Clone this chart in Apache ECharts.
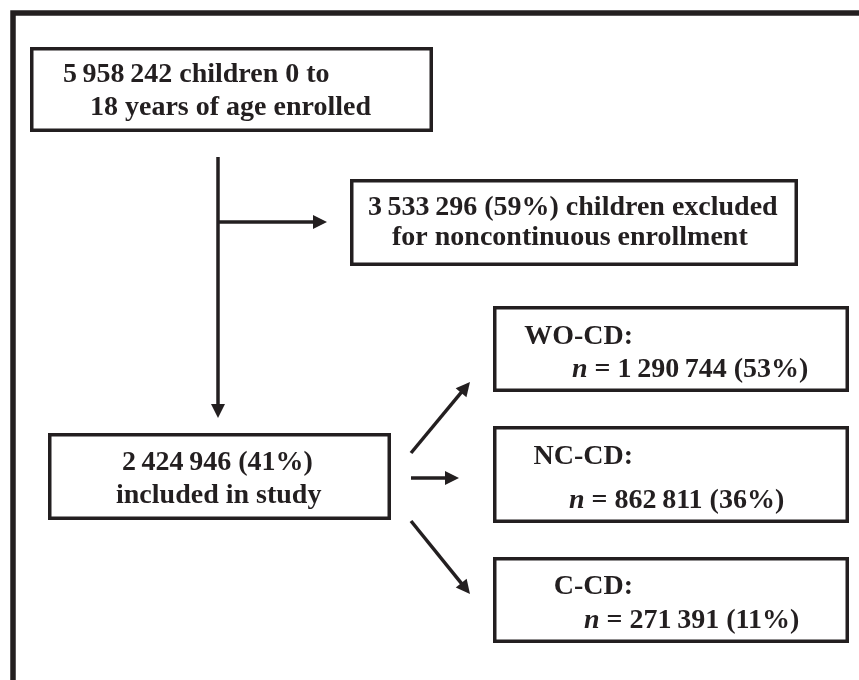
<!DOCTYPE html>
<html>
<head>
<meta charset="utf-8">
<script src="https://cdn.jsdelivr.net/npm/echarts@6/dist/echarts.min.js"></script>
<style>
html,body{margin:0;padding:0;background:#fff;}
#main{width:859px;height:680px;}
</style>
</head>
<body>
<div id="main"></div>
<script>
// ---- data ----
const stageCounts = [5958242, 3533296, 2424946];
const stagePercents = [null, 59, 41];
const stageLine1Suffix = ['children 0 to', 'children excluded', ''];
const stageLine2 = ['18 years of age enrolled', 'for noncontinuous enrollment', 'included in study'];
const groupNames = ['WO-CD', 'NC-CD', 'C-CD'];
const groupCounts = [1290744, 862811, 271391];
const groupPercents = [53, 36, 11];

// ---- layout (positions / styles only) ----
const INK = '#231f20';
const FONT = 'bold 28px "Liberation Serif", "Times New Roman", serif';
const FONT_I = 'italic bold 28px "Liberation Serif", "Times New Roman", serif';
const BOX_LW = 3.5;
const stageBoxes = [
  {x0: 30, y0: 47, x1: 433, y1: 132, l1x: 63, l1b: 84, l2x: 90, l2b: 117},
  {x0: 350, y0: 179, x1: 798, y1: 266, l1x: 368, l1b: 217, l2x: 392, l2b: 247},
  {x0: 48, y0: 433, x1: 391, y1: 520, l1x: 122, l1b: 472, l2x: 116, l2b: 505}
];
const groupBoxes = [
  {x0: 493, y0: 306, x1: 849, y1: 392, nameR: 633, l1b: 346, l2x: 572, l2b: 379},
  {x0: 493, y0: 426, x1: 849, y1: 523, nameR: 633, l1b: 466, l2x: 569, l2b: 510},
  {x0: 493, y0: 557, x1: 849, y1: 643, nameR: 633, l1b: 596, l2x: 584, l2b: 630}
];
const arrows = [
  {from: [218, 157], to: [218, 418]},
  {from: [218, 222], to: [327, 222]},
  {from: [411, 453], to: [470, 382]},
  {from: [411, 478], to: [459, 478]},
  {from: [411, 521], to: [470, 594]}
];
const BASE_OFF = 9; // baseline -> middle offset

function fmt(n) {
  return String(n).replace(/\B(?=(\d{3})+(?!\d))/g, '\u2009');
}

const g = [];
// outer frame (only top & left visible)
g.push({type: 'polyline', shape: {points: [[13, 700], [13, 13], [880, 13]]},
  style: {stroke: INK, lineWidth: 5.5, fill: null}, silent: true});

function box(b) {
  g.push({type: 'rect', shape: {x: b.x0 + BOX_LW / 2, y: b.y0 + BOX_LW / 2,
    width: b.x1 - b.x0 - BOX_LW, height: b.y1 - b.y0 - BOX_LW},
    style: {stroke: INK, lineWidth: BOX_LW, fill: '#fff'}, silent: true});
}
function txt(x, baseline, text, align, rich) {
  const st = {x: x, y: baseline - BASE_OFF, text: text, font: FONT, fill: INK,
    align: align || 'left', verticalAlign: 'middle'};
  if (rich) st.rich = rich;
  g.push({type: 'text', style: st, silent: true});
}

stageBoxes.forEach(function (b, i) {
  box(b);
  let l1 = fmt(stageCounts[i]);
  if (stagePercents[i] !== null) l1 += ' (' + stagePercents[i] + '%)';
  if (stageLine1Suffix[i]) l1 += ' ' + stageLine1Suffix[i];
  txt(b.l1x, b.l1b, l1);
  txt(b.l2x, b.l2b, stageLine2[i]);
});

const rich = {
  i: {font: FONT_I, fill: INK},
  r: {font: FONT, fill: INK}
};
groupBoxes.forEach(function (b, i) {
  box(b);
  txt(b.nameR, b.l1b, groupNames[i] + ':', 'right');
  txt(b.l2x, b.l2b, '{i|n}{r| = ' + fmt(groupCounts[i]) + ' (' + groupPercents[i] + '%)}', 'left', rich);
});

arrows.forEach(function (a) {
  const dx = a.to[0] - a.from[0], dy = a.to[1] - a.from[1];
  const len = Math.sqrt(dx * dx + dy * dy);
  const ux = dx / len, uy = dy / len;
  const hl = 14, hw = 14;
  const bx = a.to[0] - ux * hl, by = a.to[1] - uy * hl;
  g.push({type: 'line', shape: {x1: a.from[0], y1: a.from[1], x2: bx + ux * 2, y2: by + uy * 2},
    style: {stroke: INK, lineWidth: 3.5}, silent: true});
  g.push({type: 'polygon', shape: {points: [
    [a.to[0], a.to[1]],
    [bx - uy * hw / 2, by + ux * hw / 2],
    [bx + uy * hw / 2, by - ux * hw / 2]
  ]}, style: {fill: INK, stroke: null}, silent: true});
});

const chart = echarts.init(document.getElementById('main'), null, {renderer: 'canvas'});
chart.setOption({backgroundColor: '#fff', animation: false, graphic: g});
</script>
</body>
</html>
